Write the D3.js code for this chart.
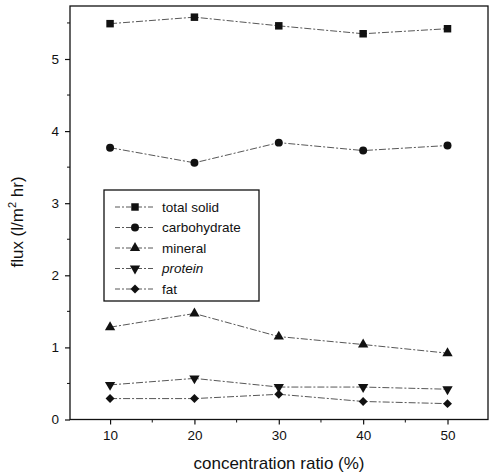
<!DOCTYPE html>
<html><head><meta charset="utf-8">
<script src="https://cdn.jsdelivr.net/npm/d3@7"></script>
<style>body{margin:0;background:#fff}svg{display:block}text{font-family:"Liberation Sans",Arial,sans-serif;fill:#111}</style>
</head><body><svg id="c" width="490" height="476"></svg>
<script>
const ratios = [10, 20, 30, 40, 50];
const totalSolid = [5.49, 5.58, 5.46, 5.35, 5.42];
const carbohydrate = [3.77, 3.56, 3.84, 3.73, 3.80];
const mineral = [1.28, 1.47, 1.15, 1.04, 0.92];
const protein = [0.48, 0.57, 0.45, 0.45, 0.42];
const fat = [0.29, 0.29, 0.35, 0.25, 0.22];
const seriesNames = ["total solid", "carbohydrate", "mineral", "protein", "fat"];
const xTicks = [10, 20, 30, 40, 50];
const yTicks = [0, 1, 2, 3, 4, 5];

const series = [
  {name: seriesNames[0], values: totalSolid, sym: d3.symbolSquare, size: 56, rot: 0},
  {name: seriesNames[1], values: carbohydrate, sym: d3.symbolCircle, size: 50, rot: 0},
  {name: seriesNames[2], values: mineral, sym: d3.symbolTriangle, size: 46, rot: 0},
  {name: seriesNames[3], values: protein, sym: d3.symbolTriangle, size: 46, rot: 180},
  {name: seriesNames[4], values: fat, sym: d3.symbolSquare, size: 40, rot: 45}
];

const svg = d3.select("#c");
const L = 70, R = 488, T = 6, B = 419.5;
const x = d3.scaleLinear().domain([5.25, 54.8]).range([L, R]);
const y = d3.scaleLinear().domain([0, 5.735]).range([B, T]);

// frame
svg.append("rect").attr("x", L).attr("y", T).attr("width", R - L).attr("height", B - T)
  .attr("fill", "none").attr("stroke", "#111").attr("stroke-width", 1.3);

// axes
const xAxis = svg.append("g").attr("transform", `translate(0,${B})`)
  .call(d3.axisBottom(x).tickValues(xTicks).tickFormat(d3.format("d")).tickSize(5).tickPadding(6));
const yAxis = svg.append("g").attr("transform", `translate(${L},0)`)
  .call(d3.axisLeft(y).tickValues(yTicks).tickFormat(d3.format("d")).tickSize(5).tickPadding(6));
[xAxis, yAxis].forEach(g => {
  g.select(".domain").remove();
  g.selectAll("line").attr("stroke", "#111").attr("stroke-width", 1.2);
  g.selectAll("text").attr("font-size", 13.5).attr("fill", "#111");
});
// minor ticks
svg.append("g").selectAll("line").data([15, 25, 35, 45]).join("line")
  .attr("x1", d => x(d)).attr("x2", d => x(d)).attr("y1", B).attr("y2", B + 3)
  .attr("stroke", "#111").attr("stroke-width", 1);
svg.append("g").selectAll("line").data([0.5, 1.5, 2.5, 3.5, 4.5, 5.5]).join("line")
  .attr("y1", d => y(d)).attr("y2", d => y(d)).attr("x1", L).attr("x2", L - 3)
  .attr("stroke", "#111").attr("stroke-width", 1);

// lines
const line = d3.line().x((d, i) => x(ratios[i])).y(d => y(d));
series.forEach(s => {
  svg.append("path").attr("d", line(s.values)).attr("fill", "none")
    .attr("stroke", "#444").attr("stroke-width", 0.9).attr("stroke-dasharray", "7,2,2,2");
  svg.append("g").selectAll("path").data(s.values).join("path")
    .attr("d", d3.symbol(s.sym, s.size)())
    .attr("transform", (d, i) => `translate(${x(ratios[i])},${y(d)}) rotate(${s.rot})`)
    .attr("fill", "#111");
});

// legend
const lg = svg.append("g");
lg.append("rect").attr("x", 104).attr("y", 190).attr("width", 155).attr("height", 111)
  .attr("fill", "#fff").attr("stroke", "#111").attr("stroke-width", 1.3);
series.forEach((s, i) => {
  const yy = 207 + i * 20.5;
  lg.append("line").attr("x1", 115).attr("x2", 153).attr("y1", yy).attr("y2", yy)
    .attr("stroke", "#444").attr("stroke-width", 0.9).attr("stroke-dasharray", "5,2,2,2");
  lg.append("path").attr("d", d3.symbol(s.sym, s.size)())
    .attr("transform", `translate(135,${yy}) rotate(${s.rot})`).attr("fill", "#111");
  lg.append("text").attr("x", 162).attr("y", yy + 4.5).attr("font-size", 13.5)
    .attr("font-style", s.name === "protein" ? "italic" : "normal").text(s.name);
});

// axis labels
svg.append("text").attr("x", 279).attr("y", 469).attr("text-anchor", "middle")
  .attr("font-size", 17).text("concentration ratio (%)");
const yl = svg.append("text").attr("transform", "translate(23,222) rotate(-90)")
  .attr("text-anchor", "middle").attr("font-size", 17);
yl.append("tspan").text("flux (l/m");
yl.append("tspan").attr("font-size", 11).attr("dy", -7).text("2");
yl.append("tspan").attr("dy", 7).text(" hr)");
</script></body></html>
